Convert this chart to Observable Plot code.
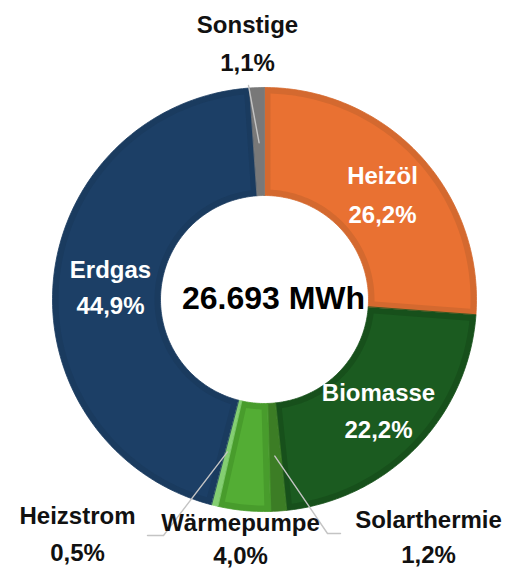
<!DOCTYPE html>
<html>
<head>
<meta charset="utf-8">
<script src="https://cdn.jsdelivr.net/npm/d3@7"></script>
<script src="https://cdn.jsdelivr.net/npm/@observablehq/plot@0.6"></script>
<style>
  html, body { margin: 0; padding: 0; background: #fff; }
  #chart { width: 507px; height: 568px; }
</style>
</head>
<body>
<div id="chart"></div>
<script>
// ---- data ----
const categories = ["Heizöl", "Biomasse", "Solarthermie", "Wärmepumpe", "Heizstrom", "Erdgas", "Sonstige"];
const shares = [26.2, 22.2, 1.2, 4.0, 0.5, 44.9, 1.1];
const totalMWh = 26693;
const totalUnit = "MWh";

// ---- styles ----
const coreColors = ["#e97132", "#1b5b20", "#3c7d25", "#53ad34", "#84cf72", "#1c3f66", "#808080"];
const bandColors = ["#d4692f", "#17501b", "#3c7d25", "#489c2c", "#84cf72", "#1a3b5f", "#787878"];
const insideLabel = [true, true, false, false, false, true, false];

// ---- layout (pixels) ----
const W = 507, H = 568;
const cx = 264, cy = 299, R = 212, Ri = 104, band = 6;
const labelLayout = {
  "Sonstige":     {x: 247, nameY: 32,  valueY: 70},
  "Heizöl":       {x: 382, nameY: 183, valueY: 222},
  "Biomasse":     {x: 378, nameY: 400, valueY: 437},
  "Erdgas":       {x: 110, nameY: 277, valueY: 313},
  "Heizstrom":    {x: 77,  nameY: 523, valueY: 560},
  "Wärmepumpe":   {x: 240, nameY: 530, valueY: 563},
  "Solarthermie": {x: 428, nameY: 527, valueY: 562}
};
// leader lines: start at slice mid-angle (radius fraction), then elbow and end (pixels)
const leaderLayout = {
  "Sonstige":     {r: 0.74, pts: [[248, 85]]},
  "Heizstrom":    {r: 0.74, pts: [[163, 535], [147, 535]]},
  "Solarthermie": {r: 0.74, pts: [[327, 533], [340, 533]]}
};

const ux = px => (px - cx) / R;
const uy = py => (cy - py) / R;
const ri = Ri / R, d = band / R;

const pie = d3.pie().sort(null).value(d => d)(shares);

function arcPoly(key, color, a0, a1, rIn, rOut) {
  const pts = [];
  const n = Math.max(2, Math.ceil((a1 - a0) / (Math.PI / 180)));
  for (let i = 0; i <= n; i++) {
    const a = a0 + (a1 - a0) * i / n;
    pts.push({key, color, x: rOut * Math.sin(a), y: rOut * Math.cos(a)});
  }
  for (let i = n; i >= 0; i--) {
    const a = a0 + (a1 - a0) * i / n;
    pts.push({key, color, x: rIn * Math.sin(a), y: rIn * Math.cos(a)});
  }
  return pts;
}

const bandRows = [], coreRows = [];
pie.forEach((p, i) => {
  bandRows.push(...arcPoly(categories[i] + "-band", bandColors[i], p.startAngle, p.endAngle, ri, 1));
  const ro2 = 1 - d, ri2 = ri + d;
  const a0o = p.startAngle + d / ro2, a1o = p.endAngle - d / ro2;
  const a0i = p.startAngle + d / ri2, a1i = p.endAngle - d / ri2;
  if (a1i - a0i > 0.02) {
    const key = categories[i] + "-core";
    const n = Math.max(2, Math.ceil((a1o - a0o) / (Math.PI / 180)));
    for (let k = 0; k <= n; k++) {
      const a = a0o + (a1o - a0o) * k / n;
      coreRows.push({key, color: coreColors[i], x: ro2 * Math.sin(a), y: ro2 * Math.cos(a)});
    }
    for (let k = n; k >= 0; k--) {
      const a = a0i + (a1i - a0i) * k / n;
      coreRows.push({key, color: coreColors[i], x: ri2 * Math.sin(a), y: ri2 * Math.cos(a)});
    }
  }
});

const leaderRows = [];
Object.entries(leaderLayout).forEach(([name, L]) => {
  const i = categories.indexOf(name);
  const mid = (pie[i].startAngle + pie[i].endAngle) / 2;
  leaderRows.push({key: name, x: L.r * Math.sin(mid), y: L.r * Math.cos(mid)});
  L.pts.forEach(([px, py]) => leaderRows.push({key: name, x: ux(px), y: uy(py)}));
});

const fmtPct = v => v.toFixed(1).replace(".", ",") + "%";
const labelRows = categories.map((name, i) => ({
  name,
  value: fmtPct(shares[i]),
  x: ux(labelLayout[name].x),
  nameY: uy(labelLayout[name].nameY),
  valueY: uy(labelLayout[name].valueY),
  fill: insideLabel[i] ? "#ffffff" : "#111111"
}));

const totalText = d3.formatLocale({decimal: ",", thousands: ".", grouping: [3], currency: ["", " €"]}).format(",d")(totalMWh) + " " + totalUnit;

const chart = Plot.plot({
  width: W,
  height: H,
  margin: 0,
  x: {domain: [-1, 1], range: [cx - R, cx + R], axis: null},
  y: {domain: [-1, 1], range: [cy + R, cy - R], axis: null},
  color: {type: "identity"},
  style: {fontFamily: "'Liberation Sans', Arial, sans-serif", background: "#ffffff", overflow: "visible"},
  marks: [
    Plot.line(bandRows, {x: "x", y: "y", z: "key", fill: "color", stroke: "color", strokeWidth: 0.8, curve: "linear-closed"}),
    Plot.line(coreRows, {x: "x", y: "y", z: "key", fill: "color", stroke: "none", curve: "linear-closed"}),
    Plot.line(leaderRows, {x: "x", y: "y", z: "key", stroke: "#c4c4c4", strokeWidth: 1.4, curve: "linear"}),
    Plot.text(labelRows, {x: "x", y: "nameY", text: "name", fill: "fill", fontSize: 24, fontWeight: "bold", textAnchor: "middle", lineAnchor: "bottom"}),
    Plot.text(labelRows, {x: "x", y: "valueY", text: "value", fill: "fill", fontSize: 24, fontWeight: "bold", textAnchor: "middle", lineAnchor: "bottom"}),
    Plot.text([totalText], {x: ux(273), y: uy(308), text: d => d, fill: "#000", fontSize: 32, fontWeight: "bold", textAnchor: "middle", lineAnchor: "bottom"})
  ]
});
document.getElementById("chart").appendChild(chart);
</script>
</body>
</html>
